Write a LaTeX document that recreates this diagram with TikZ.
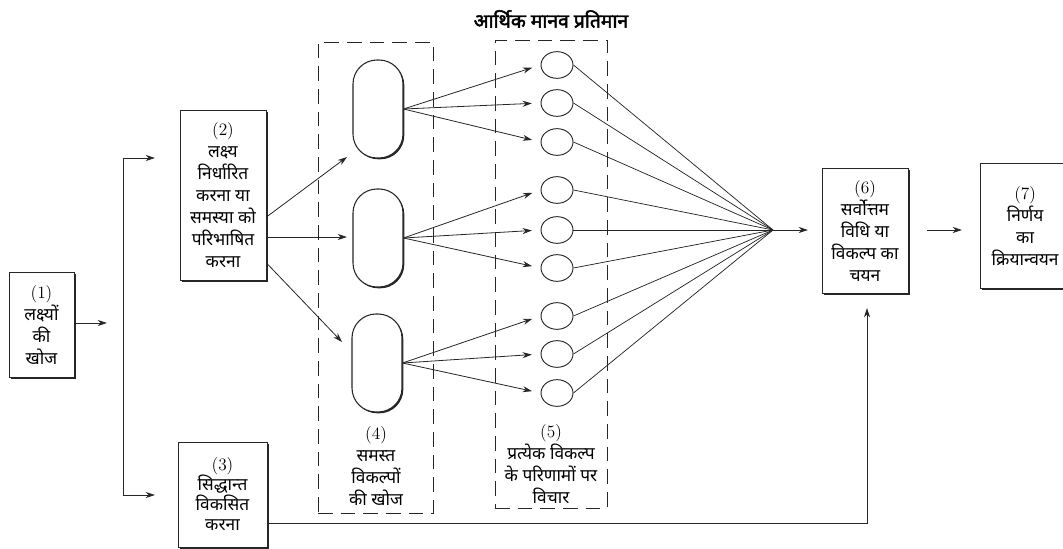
\documentclass[tikz,border=0pt]{standalone}
\usepackage{fontspec}
\newfontfamily\dev[Script=Devanagari]{Noto Sans}
\newfontfamily\devbold[Script=Devanagari, FakeBold=2.5]{Noto Sans}
\usetikzlibrary{arrows.meta,shapes.geometric,shadows,calc}

% step numbers are set in the serif face
\newcommand\stepno[1]{{\rmfamily(#1)}}

\tikzset{
  ink/.style={draw=black!85},
  arr/.style={ink, line width=0.6pt, -{Stealth[length=7pt,width=4.5pt]}},
  thin/.style={ink, line width=0.55pt},
  stepbox/.style={ink, line width=0.7pt, fill=white, align=center, inner sep=1pt,
    font=\dev\fontsize{13}{16.5}\selectfont,
    drop shadow={shadow xshift=1.3pt, shadow yshift=-1.3pt, fill=black!85, opacity=1}},
  pill/.style={ink, line width=0.8pt, fill=white, rectangle, rounded corners=18pt,
    minimum width=37.5pt, minimum height=73.5pt,
    drop shadow={shadow xshift=1pt, shadow yshift=-1pt, fill=black!85, opacity=1}},
  outcome/.style={ink, line width=0.7pt, ellipse, minimum width=24pt, minimum height=20pt, inner sep=0pt},
  dashbox/.style={ink, line width=0.7pt, dash pattern=on 11pt off 6pt, rectangle, inner sep=0pt},
  caption/.style={align=center, font=\dev\fontsize{13}{16.5}\selectfont, inner sep=0pt},
}

\begin{document}
\begin{tikzpicture}[x=0.75pt, y=-0.75pt]
\useasboundingbox (0,0) rectangle (1063,549);

% title
\node[font=\devbold\fontsize{14.5}{16}\selectfont] (title) at (551,19) {आर्थिक मानव प्रतिमान};

% dashed groups
\node[dashbox, minimum width=86.25pt, minimum height=353.25pt] (g4) at (375.5,277.5) {};
\node[dashbox, minimum width=84pt, minimum height=351pt] (g5) at (551,274) {};

% main steps
\node[stepbox, minimum width=48.75pt, minimum height=78.75pt] (b1) at (41.5,325)
  {\stepno{1}\\लक्ष्यों\\की\\खोज};
\node[stepbox, minimum width=64.5pt, minimum height=127.5pt] (b2) at (223,195)
  {\stepno{2}\\लक्ष्य\\निर्धारित\\करना या\\समस्या को\\परिभाषित\\करना};
\node[stepbox, minimum width=66.75pt, minimum height=78.75pt, font=\dev\fontsize{13}{15}\selectfont] (b3) at (222.5,494.5)
  {\stepno{3}\\सिद्धान्त\\विकसित\\करना};
\node[stepbox, minimum width=64.5pt, minimum height=93.75pt] (b6) at (865,230.5)
  {\stepno{6}\\सर्वोत्तम\\विधि या\\विकल्प का\\चयन};
\node[stepbox, minimum width=67pt, minimum height=93.75pt, anchor=north west] (b7) at (980,163)
  {\stepno{7}\\निर्णय\\का\\क्रियान्वयन};

% alternatives
\node[pill] (p1) at (378,109) {};
\node[pill] (p2) at (378,238) {};
\node[pill] (p3) at (377,363) {};

% consequences of each alternative
\foreach \i/\y in {1/65,2/103,3/142,4/190,5/230,6/268,7/316,8/354,9/393}
  \node[outcome] (c\i) at (557,\y) {};

% captions of the dashed groups
\node[caption] (t4) at (376,466) {\stepno{4}\\समस्त\\विकल्पों\\की खोज};
\node[caption] (t5) at (551,464) {\stepno{5}\\प्रत्येक विकल्प\\के परिणामों पर\\विचार};

% branching from step 1
\coordinate (e1) at (107,323);
\coordinate (vt) at (123,158);
\coordinate (vb) at (123,495);
\coordinate (e2) at (155,158);
\coordinate (e3) at (155,495);
\draw[arr] (b1.east |- e1) -- (e1);
\draw[thin] (vt) -- (vb);
\draw[arr] (vt) -- (e2);
\draw[arr] (vb) -- (e3);

% step 2 to the alternatives
\coordinate (q1) at (347,157);
\coordinate (q2) at (347,237);
\coordinate (q3) at (342,342);
\draw[arr] ($(b2.east)+(0,22)$) -- (q1);
\draw[arr] ($(b2.east)+(0,42)$) -- (q2);
\draw[arr] ($(b2.east)+(0,68)$) -- (q3);

% alternatives to their consequences
\foreach \p/\a/\b/\c in {p1/c1/c2/c3, p2/c4/c5/c6, p3/c7/c8/c9} {
  \draw[arr, shorten >=6.5pt] (\p.east) -- (\a.west);
  \draw[arr, shorten >=6.5pt] (\p.east) -- (\b.west);
  \draw[arr, shorten >=6.5pt] (\p.east) -- (\c.west);
}

% consequences converge on the choice
\coordinate (conv) at (773,230);
\coordinate (in6) at (808,230);
\foreach \i in {1,...,9}
  \draw[thin] (c\i.east) -- (conv);
\draw[arr] (conv) -- (in6);

% choice to implementation
\coordinate (s6) at (927,230);
\coordinate (s7) at (962,230);
\draw[arr] (s6) -- (s7);

% theory feeds the choice
\coordinate (turn) at (867,523);
\coordinate (up) at (867,308);
\draw[arr] (b3.east |- turn) -- (turn) -- (up);
\end{tikzpicture}
\end{document}
